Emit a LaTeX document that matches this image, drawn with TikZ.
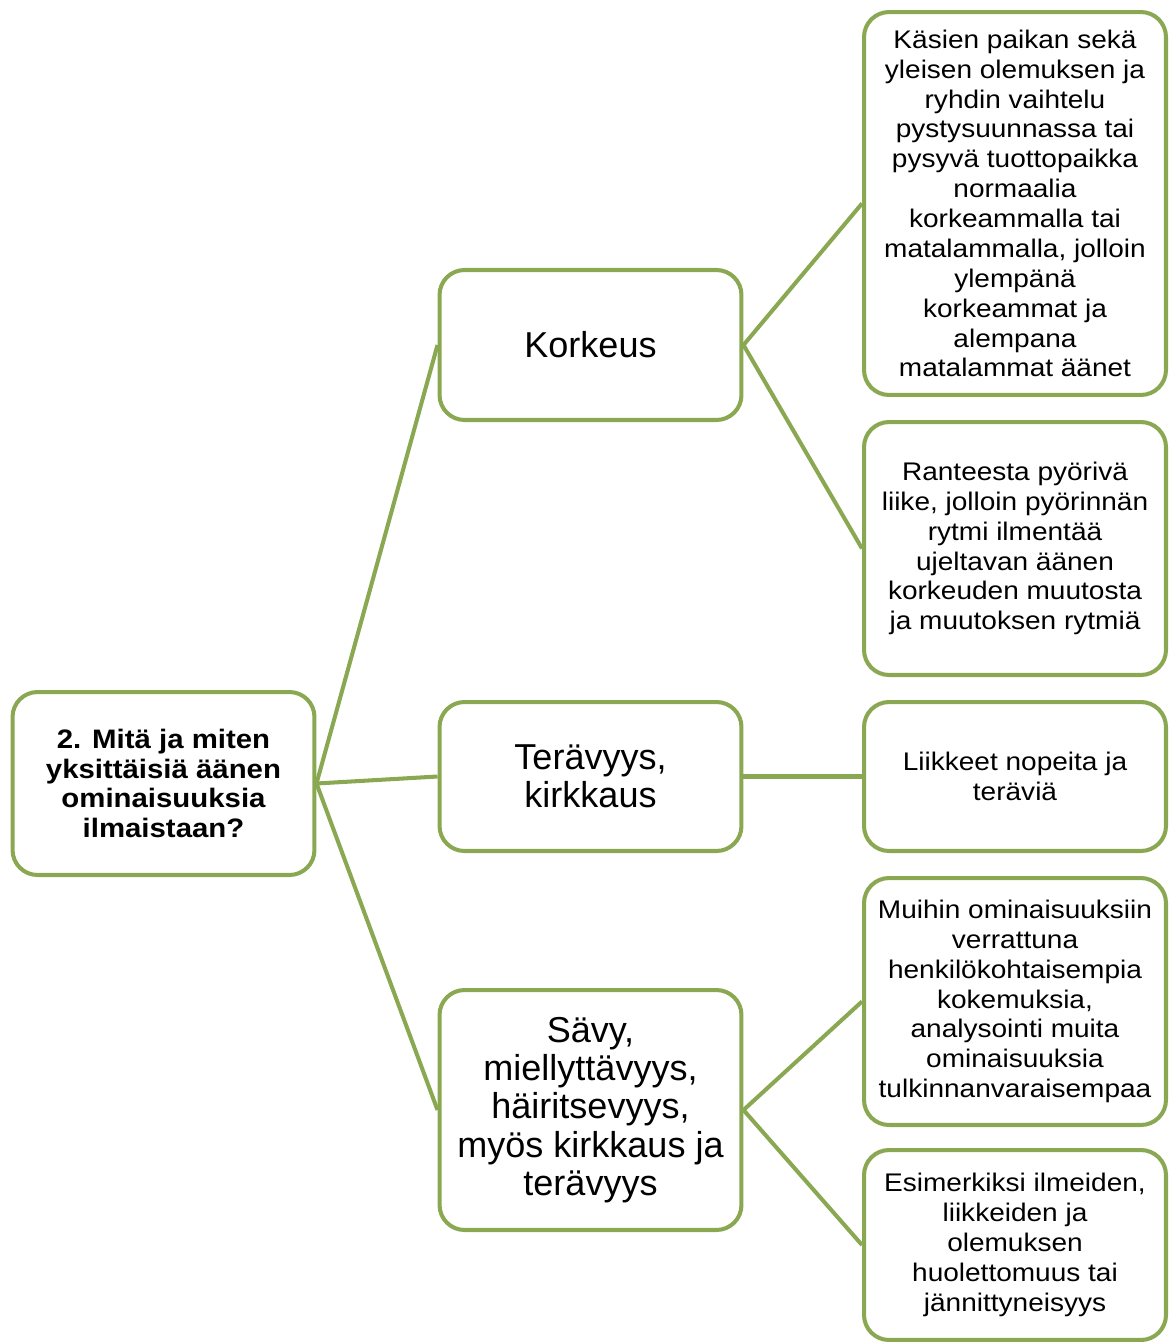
\documentclass[tikz,border=0pt]{standalone}
\usepackage{fontspec}
\setmainfont{Liberation Sans}
\newfontfamily\widesans[FakeStretch=1.1]{Liberation Sans}
\usepackage{xcolor}
\usepackage{tikz}
\usetikzlibrary{positioning}
\definecolor{olivegreen}{HTML}{8AA852}

\begin{document}
\begin{tikzpicture}[
	x=0.02cm, y=-0.02cm,
	box/.style={rectangle, draw=olivegreen, line width=2.3pt, rounded corners=0.5cm, align=center, fill=white, inner sep=0pt, minimum width=6.04cm},
	question/.style={box, font=\widesans\fontsize{15.2}{17}\selectfont\bfseries},
	topic/.style={box, font=\fontsize{20.5}{21.8}\selectfont},
	answer/.style={box, font=\widesans\fontsize{14.5}{17}\selectfont},
	link/.style={draw=olivegreen, line width=2.3pt}
]
\useasboundingbox (0,0) rectangle (1170,1342);

\node[question, minimum height=3.66cm] (q) at (163.5,783.5) {2. Mitä ja miten\\yksittäisiä äänen\\ominaisuuksia\\ilmaistaan?};

\node[topic, minimum height=3.0cm] (korkeus) at (590.5,345) {Korkeus};
\node[topic, minimum height=2.98cm] (teravyys) at (590.5,776.5) {Terävyys,\\kirkkaus};
\node[topic, minimum height=4.8cm] (savy) at (590.5,1110) {Sävy,\\miellyttävyys,\\häiritsevyys,\\myös kirkkaus ja\\terävyys};

\node[answer, minimum height=7.66cm] (kasien) at (1015,203.5) {Käsien paikan sekä\\yleisen olemuksen ja\\ryhdin vaihtelu\\pystysuunnassa tai\\pysyvä tuottopaikka\\normaalia\\korkeammalla tai\\matalammalla, jolloin\\ylempänä\\korkeammat ja\\alempana\\matalammat äänet};
\node[answer, minimum height=5.06cm] (ranne) at (1015,548.5) {Ranteesta pyörivä\\liike, jolloin pyörinnän\\rytmi ilmentää\\ujeltavan äänen\\korkeuden muutosta\\ja muutoksen rytmiä};
\node[answer, minimum height=2.98cm] (liike) at (1015,776.5) {Liikkeet nopeita ja\\teräviä};
\node[answer, minimum height=4.94cm] (muut) at (1015,1001.5) {Muihin ominaisuuksiin\\verrattuna\\henkilökohtaisempia\\kokemuksia,\\analysointi muita\\ominaisuuksia\\tulkinnanvaraisempaa};
\node[answer, minimum height=3.8cm] (ilme) at (1015,1245) {Esimerkiksi ilmeiden,\\liikkeiden ja\\olemuksen\\huolettomuus tai\\jännittyneisyys};

\draw[link] (q.east) -- (korkeus.west);
\draw[link] (q.east) -- (teravyys.west);
\draw[link] (q.east) -- (savy.west);
\draw[link] (korkeus.east) -- (kasien.west);
\draw[link] (korkeus.east) -- (ranne.west);
\draw[link] (teravyys.east) -- (liike.west);
\draw[link] (savy.east) -- (muut.west);
\draw[link] (savy.east) -- (ilme.west);
\end{tikzpicture}
\end{document}
